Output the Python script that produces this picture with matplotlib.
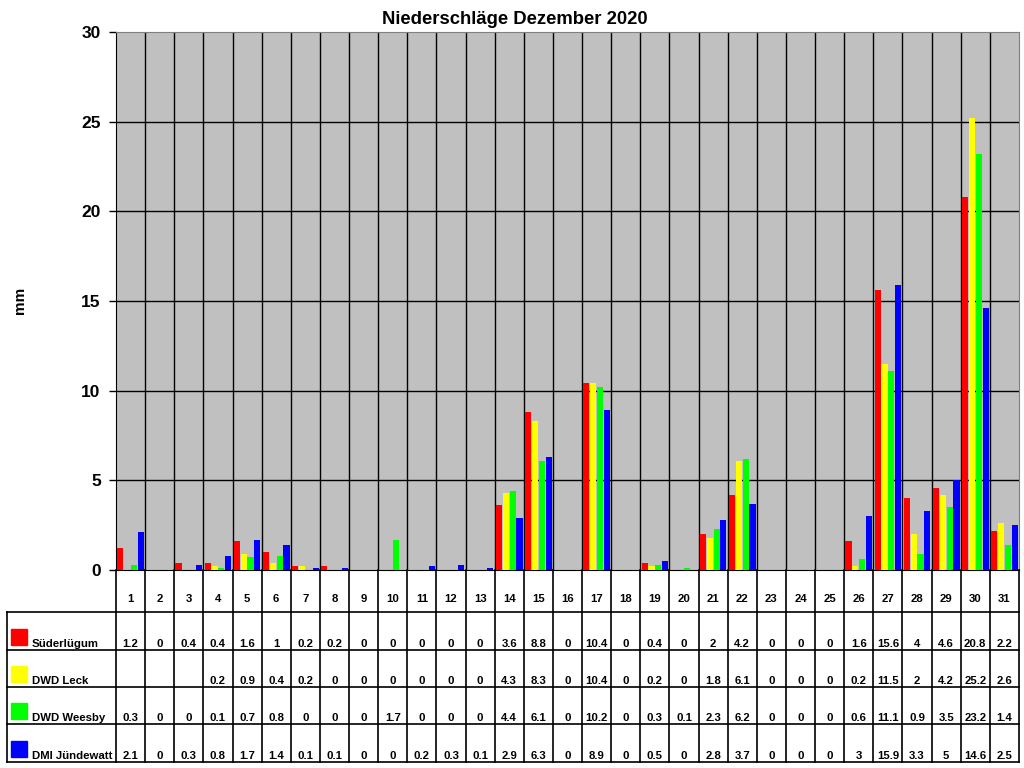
import numpy as np
import matplotlib
matplotlib.use("Agg")
import matplotlib.pyplot as plt
from matplotlib.patches import Rectangle

plt.rcParams['font.family'] = ['Liberation Sans', 'DejaVu Sans']
plt.rcParams['font.weight'] = 'bold'

title = "Niederschläge Dezember 2020"
days = list(range(1, 32))
series_names = ["Süderlügum", "DWD Leck", "DWD Weesby", "DMI Jündewatt"]
colors = ["#ff0000", "#ffff00", "#00ff00", "#0000ff"]

suederluegum = [1.2, 0, 0.4, 0.4, 1.6, 1, 0.2, 0.2, 0, 0, 0, 0, 0, 3.6, 8.8, 0,
                10.4, 0, 0.4, 0, 2, 4.2, 0, 0, 0, 1.6, 15.6, 4, 4.6, 20.8, 2.2]
dwd_leck = [None, None, None, 0.2, 0.9, 0.4, 0.2, 0, 0, 0, 0, 0, 0, 4.3, 8.3, 0,
            10.4, 0, 0.2, 0, 1.8, 6.1, 0, 0, 0, 0.2, 11.5, 2, 4.2, 25.2, 2.6]
dwd_weesby = [0.3, 0, 0, 0.1, 0.7, 0.8, 0, 0, 0, 1.7, 0, 0, 0, 4.4, 6.1, 0,
              10.2, 0, 0.3, 0.1, 2.3, 6.2, 0, 0, 0, 0.6, 11.1, 0.9, 3.5, 23.2, 1.4]
dmi_juendewatt = [2.1, 0, 0.3, 0.8, 1.7, 1.4, 0.1, 0.1, 0, 0, 0.2, 0.3, 0.1, 2.9, 6.3, 0,
                  8.9, 0, 0.5, 0, 2.8, 3.7, 0, 0, 0, 3, 15.9, 3.3, 5, 14.6, 2.5]
series = [suederluegum, dwd_leck, dwd_weesby, dmi_juendewatt]
yticks = [0, 5, 10, 15, 20, 25, 30]

W, H = 1024, 768
fig = plt.figure(figsize=(W / 100, H / 100), dpi=100)

L, R, T, B = 116, 1019, 32, 570
ax = fig.add_axes([L / W, 1 - B / H, (R - L) / W, (B - T) / H])
ax.set_facecolor("#c0c0c0")
ax.set_xlim(0.5, 31.5)
ax.set_ylim(0, 30)

x = np.array(days, dtype=float)
step = 0.235
width = 0.21
offsets = (np.arange(4) - 1.5) * step
for s, c, off in zip(series, colors, offsets):
    vals = np.array([np.nan if v is None else v for v in s], dtype=float)
    ax.bar(x + off, vals, width=width, color=c, zorder=3, linewidth=0)

for i in range(1, 31):
    ax.axvline(i + 0.5, color="black", lw=1, zorder=1)
for yv in yticks[1:-1]:
    ax.axhline(yv, color="black", lw=1, zorder=1)

ax.set_xticks([])
ax.set_yticks(yticks)
ax.set_yticklabels([str(v) for v in yticks], fontsize=12.5, fontweight='bold')
ax.tick_params(axis='y', length=5, width=1, direction='out', pad=6)
for sp in ['top', 'right']:
    ax.spines[sp].set_color("#808080")
ax.spines['left'].set_color("black")
ax.spines['bottom'].set_color("black")
fig.text(515 / W, 1 - 20 / H, title, ha='center', va='center',
         fontsize=13.3, fontweight='bold')
fig.text(20 / W, 1 - 300 / H, "mm", rotation=90, ha='center', va='center',
         fontsize=11, fontweight='bold')

# table
tax = fig.add_axes([0, 0, 1, 1])
tax.set_xlim(0, W)
tax.set_ylim(H, 0)
tax.axis('off')

colw = (R - L) / 31
rows_y = [612, 650, 687, 724, 762]
for yy in rows_y:
    tax.plot([7, R], [yy, yy], color='black', lw=1.2)
for i in range(32):
    xx = L + i * colw
    tax.plot([xx, xx], [B, rows_y[-1]], color='black', lw=1.2)
tax.plot([7, 7], [rows_y[0], rows_y[-1]], color='black', lw=1.2)

fs = 8.2
for i, d in enumerate(days):
    cx = L + (i + 0.5) * colw
    tax.text(cx, 599, str(d), ha='center', va='center', fontsize=fs, fontweight='bold')

for r, (name, s, c) in enumerate(zip(series_names, series, colors)):
    ytop, ybot = rows_y[r], rows_y[r + 1]
    tax.add_patch(Rectangle((11, ybot - 21), 16, 16, color=c))
    tax.text(32, ybot - 6, name, ha='left', va='center', fontsize=fs, fontweight='bold')
    for i, v in enumerate(s):
        if v is None:
            continue
        cx = L + (i + 0.5) * colw
        tax.text(cx, ybot - 6, f"{v:g}", ha='center', va='center', fontsize=fs, fontweight='bold')

fig.savefig("out.png", dpi=100)
